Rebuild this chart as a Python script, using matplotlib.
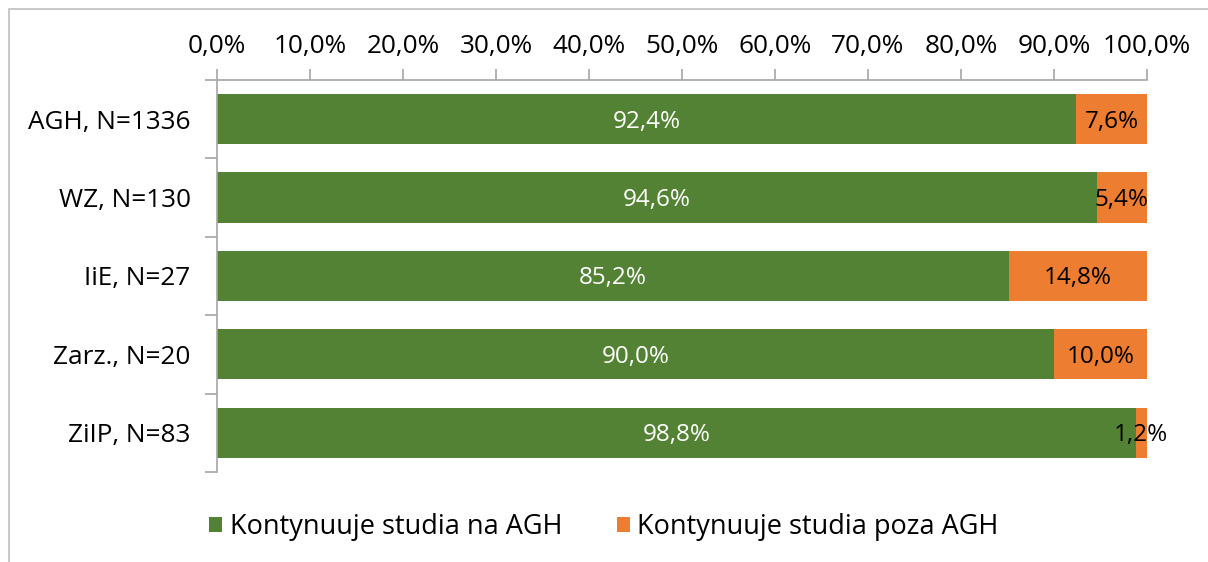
import matplotlib.pyplot as plt
from matplotlib.patches import Rectangle

plt.rcParams['font.family'] = ['Open Sans', 'DejaVu Sans']

categories = ['AGH, N=1336', 'WZ, N=130', 'IiE, N=27', 'Zarz., N=20', 'ZiIP, N=83']
na_agh = [92.4, 94.6, 85.2, 90.0, 98.8]
poza_agh = [7.6, 5.4, 14.8, 10.0, 1.2]
series_names = ['Kontynuuje studia na AGH', 'Kontynuuje studia poza AGH']

green = '#548235'
orange = '#ED7D31'
axis_grey = '#A6A6A6'
fs_label = 17.5
fs_axis = 18.8
fs_legend = 19.5

fig = plt.figure(figsize=(12.08, 5.62), dpi=100)
ax = fig.add_axes([0.1796, 0.1601, 0.9495 - 0.1796, 0.8577 - 0.1601])

# outer chart border
fig.patches.append(Rectangle((9 / 1208, -0.1), 1.2, 1 - 9 / 562 + 0.1,
                             transform=fig.transFigure, fill=False,
                             edgecolor='#BFBFBF', linewidth=1.2))

y = list(range(len(categories)))
h = 0.64
ax.barh(y, na_agh, height=h, color=green, label=series_names[0])
ax.barh(y, poza_agh, left=na_agh, height=h, color=orange, label=series_names[1])

def fmt(v):
    return f'{v:.1f}%'.replace('.', ',')

for i in y:
    ax.text(na_agh[i] / 2, i + 0.03, fmt(na_agh[i]), ha='center', va='center',
            color='white', fontsize=fs_label)
    ax.text(na_agh[i] + poza_agh[i] / 2, i + 0.03, fmt(poza_agh[i]), ha='center',
            va='center', color='black', fontsize=fs_label)

ax.set_xlim(0, 100)
ax.set_ylim(len(categories) - 0.5, -0.5)
ax.xaxis.tick_top()
ax.set_xticks(range(0, 101, 10))
ax.set_xticklabels([fmt(v) for v in range(0, 101, 10)], fontsize=fs_axis)
ax.set_yticks(y)
ax.set_yticklabels(categories, fontsize=fs_axis)
ax.tick_params(axis='y', length=0, pad=19)
ax.set_yticks([i - 0.5 for i in range(len(categories) + 1)], minor=True)
ax.tick_params(axis='y', which='minor', length=9, color=axis_grey, width=1.2)
ax.tick_params(axis='x', length=8, color=axis_grey, width=1.2, pad=7)

for s in ['right', 'bottom']:
    ax.spines[s].set_visible(False)
for s in ['top', 'left']:
    ax.spines[s].set_color(axis_grey)
    ax.spines[s].set_linewidth(1.2)

fig.legend(loc='center', bbox_to_anchor=(0.5, 0.062), ncol=2, frameon=False,
           fontsize=fs_legend, handlelength=0.48, handleheight=0.48,
           handletextpad=0.28, columnspacing=2.0)

fig.savefig('out.png', dpi=100)
